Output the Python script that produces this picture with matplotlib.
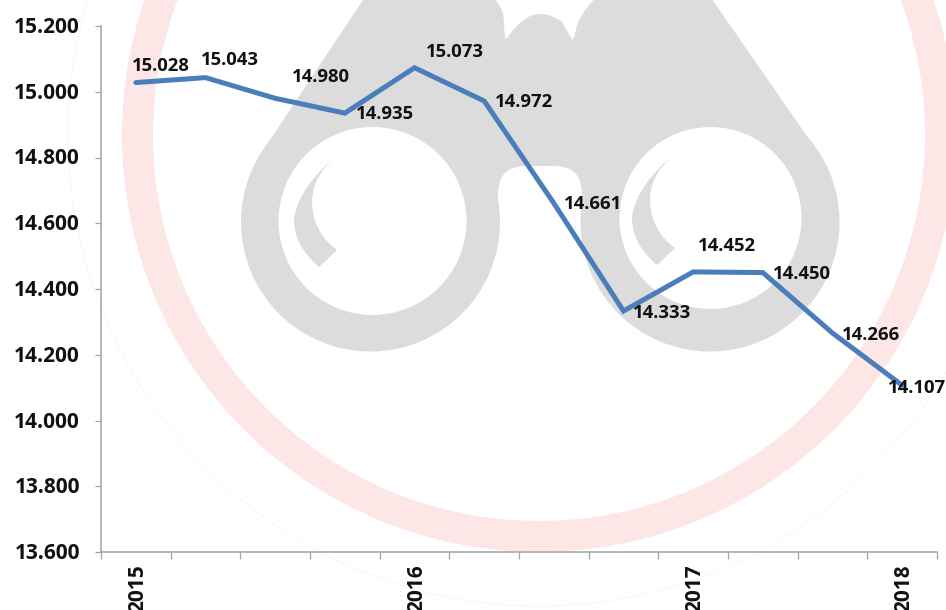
import matplotlib
matplotlib.use("Agg")
import matplotlib.pyplot as plt
from matplotlib.patches import Circle, PathPatch, FancyBboxPatch, Wedge
from matplotlib.path import Path
from matplotlib.transforms import ScaledTranslation

W, H = 946, 610
periods = list(range(12))
values = [15.028, 15.043, 14.980, 14.935, 15.073, 14.972, 14.661, 14.333, 14.452, 14.450, 14.266, 14.107]
labels = ["15.028", "15.043", "14.980", "14.935", "15.073", "14.972", "14.661", "14.333", "14.452", "14.450", "14.266", "14.107"]
label_offsets = [(25, 17), (24, 18), (46, 21), (40, -1), (40, 16), (40, -1), (39, -1), (39, -2), (34, 26), (39, -1), (39, -2), (15, -3)]
year_pos = [0, 4, 8, 11]
year_labels = ["2015", "2016", "2017", "2018"]
y_ticks = [13.6, 13.8, 14.0, 14.2, 14.4, 14.6, 14.8, 15.0, 15.2]

FONT = "Open Sans"
GREY = "#dcdcdc"
PINK = "#fde6e6"
BLUE = "#4a7ebb"
AXIS = "#a3a3a3"
TEXT = "#111111"

fig = plt.figure(figsize=(W / 100, H / 100), dpi=100, facecolor="white")

# Watermark layer in pixel coordinates
bg = fig.add_axes([0, 0, 1, 1], zorder=0)
bg.set_xlim(0, W)
bg.set_ylim(H, 0)
bg.axis("off")
bg.add_patch(Circle((539, 135), 471, fill=False, ec="#f7f7f7", lw=0.7))
bg.add_patch(Wedge((539, 135), 417, 0, 360, width=31, fc=PINK, ec="none"))

M, L, C3, C4, Z = Path.MOVETO, Path.LINETO, Path.CURVE3, Path.CURVE4, Path.CLOSEPOLY
body = Path(
    [(260, 155), (363, 0), (380, -30), (470, -30), (495, -5), (503, 12), (505, 38),
     (507, 38), (520, 20), (530, 14), (540, 14), (552, 14), (562, 22), (570, 36), (572, 40), (575, 36),
     (575, 25), (585, 10), (598, -5), (620, -30), (690, -30), (716, 5),
     (820, 155), (710, 222), (371, 222), (260, 155)],
    [M, L, L, L, C3, C3, L,
     L, C4, C4, C4, C3, C3, L, L, L,
     C3, C3, L, L, L, L,
     L, L, L, Z])
bg.add_patch(PathPatch(body, fc=GREY, ec="none"))

# Arch between the barrels
bg.add_patch(FancyBboxPatch((498, 166), 84, 120, boxstyle="round,pad=0,rounding_size=28", fc="white", ec="none"))

# Barrels
bg.add_patch(Circle((370.5, 222), 129.5, fc=GREY, ec="none"))
bg.add_patch(Circle((710, 222), 129.5, fc=GREY, ec="none"))

# Lenses and highlights
for (cx, cy, r) in [(372.5, 221, 94), (710.5, 218, 91)]:
    bg.add_patch(Circle((cx, cy), r, fc="white", ec="none"))
for dx, dy in [(0, 0), (338, -2)]:
    pts = [(338, 155), (300, 185), (294, 218), (293, 245), (319, 267), (337, 250),
           (312, 232), (312, 200), (313, 175), (338, 155)]
    c = Path([(a + dx, b + dy) for a, b in pts], [M, C3, C3, C3, C3, L, C3, C3, C3, C3])
    bg.add_patch(PathPatch(c, fc=GREY, ec="none"))

# Chart
x0, x1, ytop, ybot = 101, 937, 26, 552
ax = fig.add_axes([x0 / W, 1 - ybot / H, (x1 - x0) / W, (ybot - ytop) / H], zorder=1)
ax.patch.set_alpha(0)
ax.plot(periods, values, color=BLUE, lw=3.6, solid_capstyle="round", solid_joinstyle="miter", clip_on=False)
ax.set_xlim(-0.5, 11.5)
ax.set_ylim(13.6, 15.2)

for s in ["top", "right"]:
    ax.spines[s].set_visible(False)
for s in ["left", "bottom"]:
    ax.spines[s].set_color(AXIS)
    ax.spines[s].set_linewidth(1.1)

ax.set_yticks(y_ticks)
ax.set_yticklabels([f"{v:.3f}" for v in y_ticks], fontfamily=FONT, fontweight="bold", fontsize=15, color=TEXT)
ax.tick_params(axis="y", length=4.5, width=0.9, color=AXIS, pad=10)
shift = ScaledTranslation(-1 / 100, 1 / 100, fig.dpi_scale_trans)
for t in ax.get_yticklabels():
    t.set_transform(t.get_transform() + shift)

ax.set_xticks([i - 0.5 for i in range(13)])
ax.set_xticklabels([])
ax.tick_params(axis="x", which="major", length=5, width=0.9, color=AXIS)
ax.set_xticks(year_pos, minor=True)
ax.set_xticklabels(year_labels, minor=True, rotation=90, fontfamily=FONT, fontweight="bold", fontsize=15,
                   color=TEXT, va="top", ha="center")
ax.tick_params(axis="x", which="minor", length=0, pad=9)
year_shift = ScaledTranslation(2 / 100, 0, fig.dpi_scale_trans)
for t in ax.get_xticklabels(minor=True):
    t.set_transform(t.get_transform() + year_shift)

for xv, yv, txt, (dx, dy) in zip(periods, values, labels, label_offsets):
    ax.annotate(txt, (xv, yv), xytext=(dx * 0.72, dy * 0.72), textcoords="offset points",
                ha="center", va="center", fontfamily=FONT, fontweight="bold", fontsize=13.3,
                color=TEXT, annotation_clip=False, zorder=5)

fig.savefig("out.png", dpi=100)
